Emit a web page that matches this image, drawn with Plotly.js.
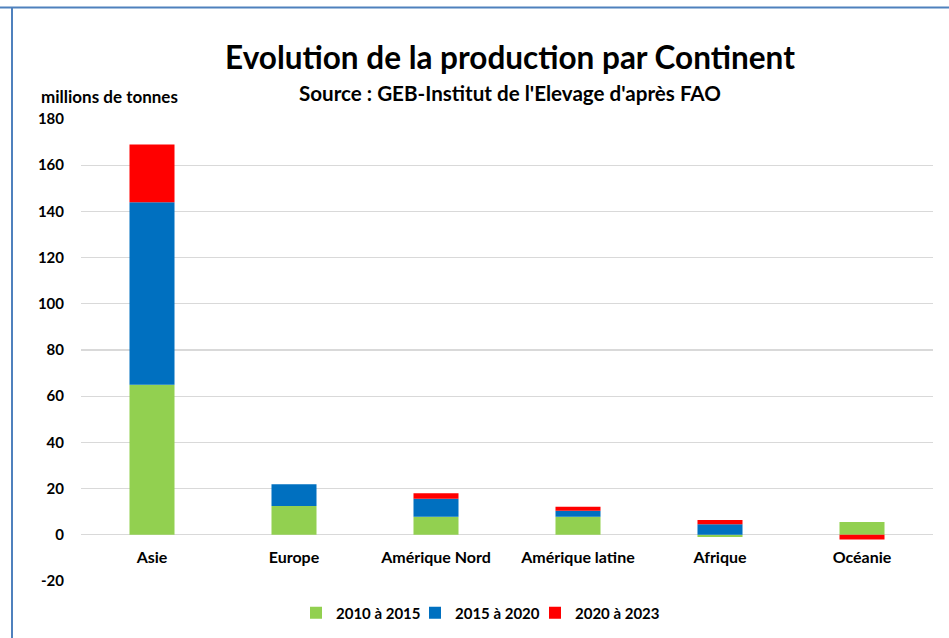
<!DOCTYPE html>
<html>
<head>
<meta charset="utf-8">
<script src="https://cdn.plot.ly/plotly-3.0.1.min.js"></script>
<style>
  html, body { margin: 0; padding: 0; background: #ffffff; }
  #chart { width: 949px; height: 638px; }
</style>
</head>
<body>
<div id="chart"></div>
<script>
const continents = ["Asie", "Europe", "Amérique Nord", "Amérique latine", "Afrique", "Océanie"];
const serie2010_2015 = [65, 12.5, 7.8, 7.8, -1.0, 5.5];
const serie2015_2020 = [79, 9.4, 7.8, 2.6, 4.6, 0];
const serie2020_2023 = [25, 0, 2.4, 1.7, 1.8, -2.0];
const seriesNames = ["2010 à 2015", "2015 à 2020", "2020 à 2023"];
const seriesColors = ["#92d050", "#0070c0", "#ff0000"];
const yTicks = [-20, 0, 20, 40, 60, 80, 100, 120, 140, 160, 180];

const FONT = "Lato, 'Open Sans', sans-serif";
const allSeries = [serie2010_2015, serie2015_2020, serie2020_2023];
const legendIds = ["legend", "legend2", "legend3"];

const traces = allSeries.map((vals, i) => ({
  type: "bar",
  name: seriesNames[i],
  x: continents,
  y: vals,
  legend: legendIds[i],
  marker: { color: seriesColors[i], line: { width: 0 } },
  hoverinfo: "x+y+name"
}));

const W = 949, H = 638;
const L = 81, R = 16, T = 119, B = 57;
const plotW = W - L - R, plotH = H - T - B;
const px = X => (X - L) / plotW;
const py = Y => (H - B - Y) / plotH;

const legendTextStart = [336, 455, 575];
const mkLegend = i => ({
  orientation: "h",
  x: px(legendTextStart[i] - 40), xanchor: "left",
  y: py(613), yanchor: "middle",
  font: { family: FONT, size: 15, color: "#000000", weight: "bold" },
  itemwidth: 30,
  bgcolor: "rgba(0,0,0,0)"
});

const layout = {
  width: W,
  height: H,
  margin: { l: L, r: R, t: T, b: B, pad: 0, autoexpand: false },
  paper_bgcolor: "#ffffff",
  plot_bgcolor: "#ffffff",
  barmode: "relative",
  bargap: 0.683,
  font: { family: FONT, color: "#000000", size: 15 },
  title: {
    text: "<b>Evolution de la production par Continent</b>",
    font: { family: FONT, size: 31.5, color: "#000000" },
    x: 510 / W, xanchor: "center",
    y: 1 - 58 / H, yanchor: "middle",
    xref: "container", yref: "container",
    automargin: false
  },
  xaxis: {
    type: "category",
    anchor: "free",
    position: py(535),
    showgrid: false,
    zeroline: false,
    showline: false,
    ticks: "",
    tickfont: { family: FONT, size: 16, color: "#000000", weight: "bold" },
    ticklabelstandoff: 11,
    automargin: false,
    fixedrange: true
  },
  yaxis: {
    range: [-20, 180],
    tickvals: yTicks,
    ticktext: yTicks.map(String),
    showgrid: true,
    gridcolor: "#d9d9d9",
    gridwidth: 1.3,
    zeroline: true,
    zerolinecolor: "#d9d9d9",
    zerolinewidth: 1.3,
    showline: false,
    ticks: "",
    tickfont: { family: FONT, size: 15, color: "#000000", weight: "bold" },
    ticklabelstandoff: 16,
    automargin: false,
    fixedrange: true
  },
  legend: mkLegend(0),
  legend2: mkLegend(1),
  legend3: mkLegend(2),
  annotations: [
    {
      text: "<b>Source : GEB-Institut de l'Elevage d'après FAO</b>",
      xref: "paper", yref: "paper",
      x: px(510), y: py(93),
      xanchor: "center", yanchor: "middle",
      showarrow: false,
      font: { family: FONT, size: 20.6, color: "#000000" }
    },
    {
      text: "<b>millions de tonnes</b>",
      xref: "paper", yref: "paper",
      x: px(39), y: py(96),
      xanchor: "left", yanchor: "middle",
      showarrow: false,
      font: { family: FONT, size: 17, color: "#000000" }
    }
  ],
  shapes: [
    {
      type: "line", xref: "paper", yref: "paper",
      x0: px(0), x1: px(W), y0: py(7.5), y1: py(7.5),
      line: { color: "#4f81bd", width: 2 }
    },
    {
      type: "line", xref: "paper", yref: "paper",
      x0: px(12), x1: px(12), y0: py(7.5), y1: py(H),
      line: { color: "#4f81bd", width: 2 }
    }
  ],
  showlegend: true
};

Plotly.newPlot("chart", traces, layout, { displayModeBar: false, staticPlot: true });
</script>
</body>
</html>
